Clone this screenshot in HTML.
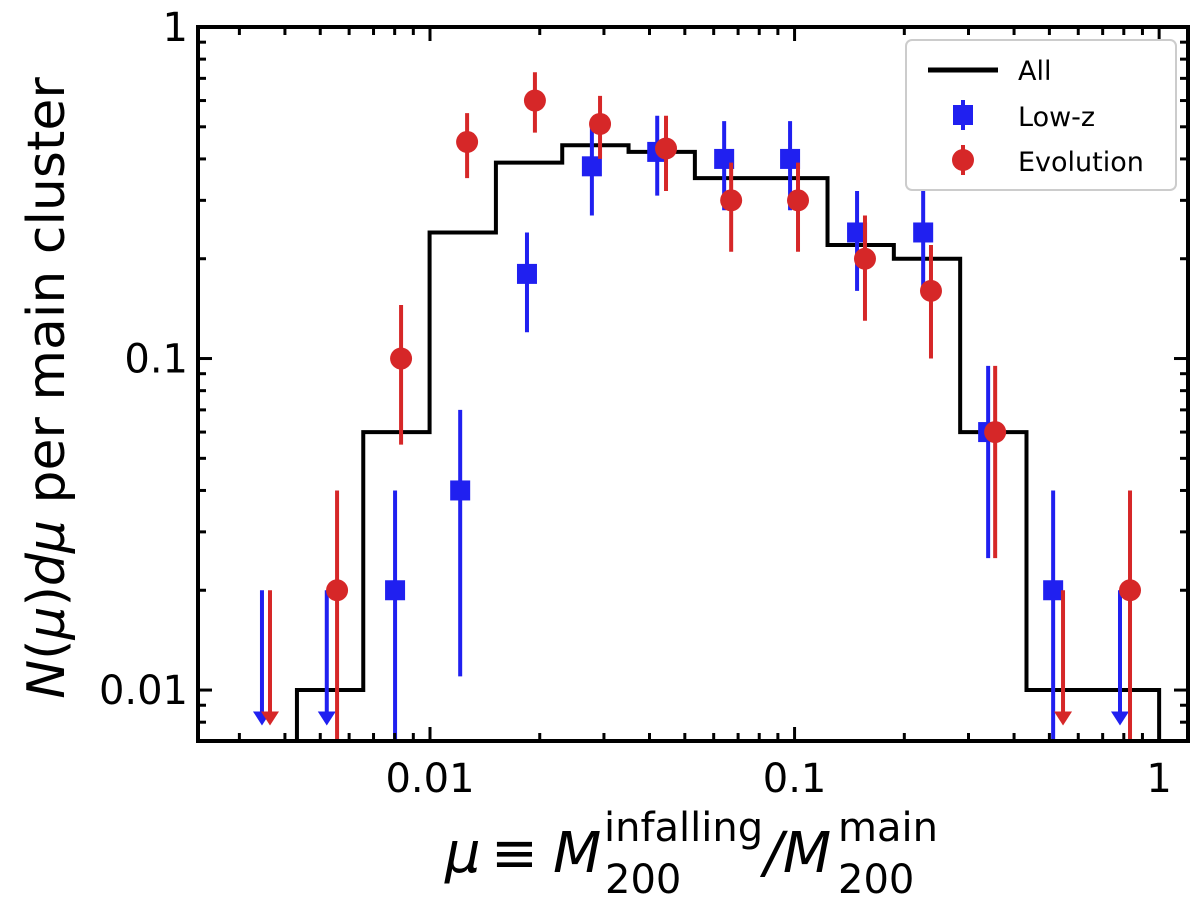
<!DOCTYPE html>
<html><head><meta charset="utf-8"><style>
html,body{margin:0;padding:0;background:#fff;width:1200px;height:900px;overflow:hidden}
svg text{font-family:"DejaVu Sans","Liberation Sans",sans-serif}
</style></head><body>
<svg id="chart" width="1200" height="900" xmlns="http://www.w3.org/2000/svg">
<g id="plot"></g>
<g>
<text x="445" y="872" font-size="56" font-style="italic">μ</text>
<text x="491" y="872" font-size="56">≡</text>
<text x="553" y="872" font-size="56" font-style="italic">M</text>
<text x="604" y="841" font-size="40">infalling</text>
<text x="605" y="893" font-size="40">200</text>
<text x="764" y="872" font-size="56" font-style="italic">/M</text>
<text x="838" y="841" font-size="40">main</text>
<text x="838" y="893" font-size="40">200</text>
</g>
<text transform="translate(64,388) rotate(-90)" font-size="52" text-anchor="middle"><tspan font-style="italic">N</tspan>(<tspan font-style="italic">μ</tspan>)<tspan font-style="italic">dμ</tspan> per main cluster</text>
</svg>
<script>
const binEdgesLog = [-2.365, 0];
const histValues = [0.01,0.06,0.24,0.39,0.44,0.42,0.35,0.35,0.22,0.2,0.06,0.01,0.01];
const lowzX = [0.00346,0.00521,0.00802,0.0121,0.01845,0.0278,0.042,0.0641,0.0972,0.1484,0.2253,0.3396,0.512,0.781];
const lowzY = [0.02,0.02,0.02,0.04,0.18,0.38,0.42,0.40,0.40,0.24,0.24,0.06,0.02,0.02];
const lowzLo = [null,null,0.006,0.011,0.12,0.27,0.31,0.28,0.28,0.16,0.16,0.025,0.006,null];
const lowzHi = [null,null,0.04,0.07,0.24,0.5,0.54,0.52,0.52,0.32,0.32,0.095,0.04,null];
const lowzLimit = [true,true,false,false,false,false,false,false,false,false,false,false,false,true];
const evoX = [0.00364,0.00556,0.00833,0.01264,0.0194,0.02927,0.0444,0.067,0.1022,0.156,0.2367,0.355,0.545,0.832];
const evoY = [0.02,0.02,0.1,0.45,0.6,0.51,0.43,0.30,0.30,0.2,0.16,0.06,0.02,0.02];
const evoLo = [null,0.006,0.055,0.35,0.48,0.4,0.32,0.21,0.21,0.13,0.1,0.025,null,0.006];
const evoHi = [null,0.04,0.145,0.55,0.73,0.62,0.54,0.39,0.39,0.27,0.22,0.095,null,0.04];
const evoLimit = [true,false,false,false,false,false,false,false,false,false,false,false,true,false];
const xTicks = [0.01,0.1,1];
const xTickLabels = ["0.01","0.1","1"];
const yTicks = [0.01,0.1,1];
const yTickLabels = ["0.01","0.1","1"];

const L=198,R=1188,T=27,B=741;
const x0=Math.log10(0.00231), x1=Math.log10(1.2);
const y0=Math.log10(0.00702), y1=0;
const X=v=>L+(Math.log10(v)-x0)/(x1-x0)*(R-L);
const Y=v=>B-(Math.log10(v)-y0)/(y1-y0)*(B-T);
const NS="http://www.w3.org/2000/svg";
const g=document.getElementById('plot');
function el(tag,attrs,parent){const e=document.createElementNS(NS,tag);for(const k in attrs)e.setAttribute(k,attrs[k]);(parent||g).appendChild(e);return e;}
const clip=el('clipPath',{id:'cp'});el('rect',{x:L,y:T,width:R-L,height:B-T},clip);

const n=histValues.length;const step=(binEdgesLog[1]-binEdgesLog[0])/n;
let d=`M${X(Math.pow(10,binEdgesLog[0]))},${B+5}`;
for(let i=0;i<n;i++){const a=X(Math.pow(10,binEdgesLog[0]+i*step)),b=X(Math.pow(10,binEdgesLog[0]+(i+1)*step));const y=Y(histValues[i]);d+=` L${a},${y} L${b},${y}`;}
d+=` L${X(Math.pow(10,binEdgesLog[1]))},${B+5}`;
const hist=el('path',{d:d,fill:'none',stroke:'#000','stroke-width':4,'clip-path':'url(#cp)'});



function series(xs,ys,lo,hi,lim,color,marker,name){
  const sg=el('g',{'clip-path':'url(#cp)'});
  
  
  for(let i=0;i<xs.length;i++){
    const cx=X(xs[i]);
    if(lim[i]){
      const ys0=Y(ys[i]),tip=Y(0.0085)+12;
      const ln=el('line',{x1:cx,y1:ys0,x2:cx,y2:tip-10,stroke:color,'stroke-width':4},sg);
      
      
      el('polygon',{points:`${cx-9},${tip-14} ${cx+9},${tip-14} ${cx},${tip}`,fill:color},sg);
      continue;
    }
    const top=Y(hi[i]),bot=Y(lo[i]);
    const eb=el('line',{x1:cx,y1:top,x2:cx,y2:bot,stroke:color,'stroke-width':4},sg);
    
    
    const cy=Y(ys[i]);let m;
    if(marker==='s')m=el('rect',{x:cx-10,y:cy-10,width:20,height:20,fill:color},sg);
    else m=el('circle',{cx:cx,cy:cy,r:11,fill:color},sg);
    
    
  }
}
series(lowzX,lowzY,lowzLo,lowzHi,lowzLimit,'#2020f0','s','low-z');
series(evoX,evoY,evoLo,evoHi,evoLimit,'#d62728','o','evolution');

const tk=el('g',{stroke:'#000'});


for(let e=-3;e<=0;e++)for(let m=1;m<10;m++){const v=m*Math.pow(10,e);if(v<0.00231||v>1.2)continue;const x=X(v);const len=m===1?14:8;const w=3;
  el('line',{x1:x,y1:B,x2:x,y2:B-len,'stroke-width':w},tk);el('line',{x1:x,y1:T,x2:x,y2:T+len,'stroke-width':w},tk);}
for(let e=-3;e<=0;e++)for(let m=1;m<10;m++){const v=m*Math.pow(10,e);if(v<0.00702||v>1)continue;const y=Y(v);const len=m===1?14:8;const w=3;
  el('line',{x1:L,y1:y,x2:L+len,y2:y,'stroke-width':w},tk);el('line',{x1:R,y1:y,x2:R-len,y2:y,'stroke-width':w},tk);}
xTicks.forEach((v,i)=>{const t=el('text',{x:X(v),y:792,'font-size':40,'text-anchor':'middle'});t.textContent=xTickLabels[i];
  
  });
yTicks.forEach((v,i)=>{const t=el('text',{x:188,y:Y(v)+14,'font-size':40,'text-anchor':'end'});t.textContent=yTickLabels[i];
  
  });
const fr=el('rect',{x:L,y:T,width:R-L,height:B-T,fill:'none',stroke:'#000','stroke-width':4});



const lg=el('g',{});


el('rect',{x:906,y:40,width:270,height:150,rx:6,fill:'#fff',stroke:'#ccc','stroke-width':2},lg);
el('line',{x1:928,y1:70,x2:998,y2:70,stroke:'#000','stroke-width':5},lg);
el('line',{x1:963,y1:100,x2:963,y2:130,stroke:'#2020f0','stroke-width':4},lg);
el('rect',{x:953,y:105,width:20,height:20,fill:'#2020f0'},lg);
el('line',{x1:963,y1:145,x2:963,y2:175,stroke:'#d62728','stroke-width':4},lg);
el('circle',{cx:963,cy:160,r:11,fill:'#d62728'},lg);
[['All',80],['Low-z',126],['Evolution',171]].forEach(([s,y])=>{const t=el('text',{x:1018,y:y,'font-size':27},lg);t.textContent=s;
  
  });
</script>
</body></html>
